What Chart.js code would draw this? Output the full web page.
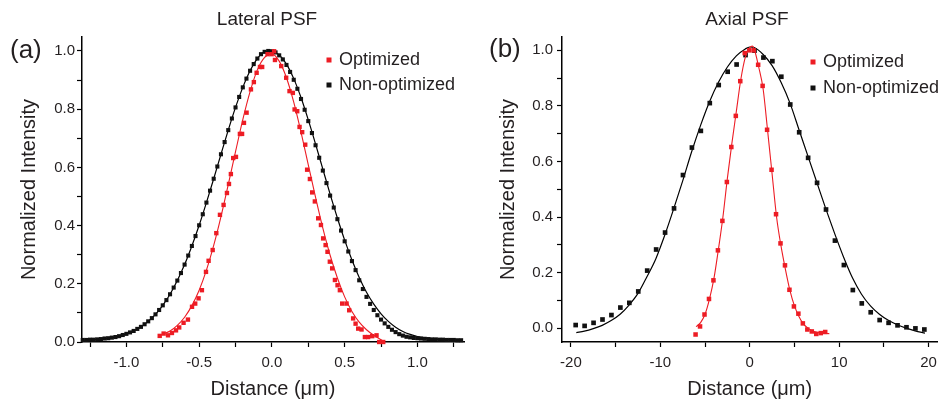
<!DOCTYPE html>
<html>
<head>
<meta charset="utf-8">
<script src="https://cdn.jsdelivr.net/npm/chart.js@4.4.1/dist/chart.umd.min.js"></script>
<style>
  html, body { margin: 0; padding: 0; background: #ffffff; }
  .panel { position: absolute; top: 0; width: 472px; height: 401px; }
</style>
</head>
<body>
<div class="panel" style="left:0px"><canvas id="ca" width="472" height="401"></canvas></div>
<div class="panel" style="left:472px"><canvas id="cb" width="472" height="401"></canvas></div>
<script>
// ---------------- DATA ----------------
// Panel (a) Lateral PSF
const lateralNonOptX = [-1.300,-1.275,-1.250,-1.225,-1.200,-1.175,-1.150,-1.125,-1.100,-1.075,-1.050,-1.025,-1.000,-0.975,-0.950,-0.925,-0.900,-0.875,-0.850,-0.825,-0.800,-0.775,-0.750,-0.725,-0.700,-0.675,-0.650,-0.625,-0.600,-0.575,-0.550,-0.525,-0.500,-0.475,-0.450,-0.425,-0.400,-0.375,-0.350,-0.325,-0.300,-0.275,-0.250,-0.225,-0.200,-0.175,-0.150,-0.125,-0.100,-0.075,-0.050,-0.025,0.000,0.025,0.050,0.075,0.100,0.125,0.150,0.175,0.200,0.225,0.250,0.275,0.300,0.325,0.350,0.375,0.400,0.425,0.450,0.475,0.500,0.525,0.550,0.575,0.600,0.625,0.650,0.675,0.700,0.725,0.750,0.775,0.800,0.825,0.850,0.875,0.900,0.925,0.950,0.975,1.000,1.025,1.050,1.075,1.100,1.125,1.150,1.175,1.200,1.225,1.250,1.275,1.300];
const lateralNonOptY = [0.007,0.007,0.008,0.008,0.009,0.010,0.012,0.013,0.015,0.017,0.020,0.024,0.028,0.033,0.038,0.045,0.052,0.061,0.071,0.082,0.095,0.110,0.126,0.144,0.164,0.187,0.211,0.237,0.266,0.297,0.330,0.364,0.401,0.439,0.479,0.520,0.561,0.603,0.645,0.687,0.728,0.768,0.806,0.842,0.875,0.905,0.932,0.955,0.974,0.989,0.997,1.000,0.999,0.995,0.985,0.971,0.952,0.928,0.901,0.870,0.835,0.798,0.759,0.718,0.676,0.633,0.589,0.546,0.503,0.462,0.422,0.383,0.346,0.311,0.278,0.247,0.212,0.182,0.155,0.131,0.110,0.092,0.077,0.064,0.052,0.042,0.034,0.027,0.022,0.018,0.016,0.014,0.013,0.012,0.011,0.010,0.009,0.009,0.008,0.008,0.007,0.007,0.007,0.006,0.006];
const lateralOptX = [-0.771,-0.744,-0.714,-0.687,-0.659,-0.637,-0.607,-0.577,-0.549,-0.527,-0.504,-0.481,-0.453,-0.435,-0.407,-0.382,-0.357,-0.332,-0.309,-0.295,-0.282,-0.266,-0.247,-0.220,-0.205,-0.192,-0.174,-0.144,-0.124,-0.105,-0.082,-0.067,-0.030,-0.002,0.015,0.021,0.064,0.098,0.121,0.144,0.156,0.174,0.190,0.208,0.229,0.242,0.261,0.277,0.295,0.318,0.337,0.352,0.369,0.382,0.398,0.414,0.433,0.451,0.467,0.483,0.513,0.531,0.558,0.575,0.593,0.616,0.639,0.661,0.689,0.719,0.737,0.765];
const lateralOptY = [0.021,0.029,0.023,0.031,0.040,0.050,0.066,0.077,0.121,0.132,0.150,0.178,0.241,0.279,0.316,0.374,0.437,0.471,0.512,0.543,0.577,0.632,0.636,0.715,0.715,0.753,0.788,0.868,0.893,0.925,0.945,0.945,0.989,0.989,0.999,0.969,0.948,0.908,0.862,0.856,0.799,0.793,0.739,0.721,0.678,0.592,0.560,0.514,0.483,0.425,0.402,0.356,0.333,0.310,0.276,0.253,0.213,0.195,0.178,0.132,0.132,0.109,0.081,0.063,0.046,0.043,0.017,0.017,0.020,0.023,0.000,0.000];
const lateralNonOptFitX = [-1.30,-1.25,-1.20,-1.15,-1.10,-1.05,-1.00,-0.95,-0.90,-0.85,-0.80,-0.75,-0.70,-0.65,-0.60,-0.55,-0.50,-0.45,-0.40,-0.35,-0.30,-0.25,-0.20,-0.15,-0.10,-0.05,0.00,0.05,0.10,0.15,0.20,0.25,0.30,0.35,0.40,0.45,0.50,0.55,0.60,0.65,0.70,0.75,0.80,0.85,0.90,0.95,1.00,1.05,1.10,1.15,1.20,1.25,1.30];
const lateralNonOptFitY = [0.006,0.008,0.009,0.012,0.015,0.020,0.028,0.038,0.052,0.071,0.095,0.126,0.164,0.211,0.266,0.330,0.401,0.479,0.561,0.645,0.728,0.806,0.875,0.932,0.974,0.997,0.999,0.986,0.955,0.905,0.840,0.763,0.680,0.594,0.508,0.426,0.350,0.282,0.222,0.171,0.130,0.097,0.071,0.051,0.036,0.026,0.019,0.014,0.011,0.009,0.008,0.007,0.006];
const lateralOptFitX = [-0.775,-0.75,-0.70,-0.65,-0.60,-0.55,-0.50,-0.45,-0.40,-0.35,-0.30,-0.25,-0.20,-0.15,-0.10,-0.05,0.00,0.05,0.10,0.15,0.20,0.25,0.30,0.35,0.40,0.45,0.50,0.55,0.60,0.65,0.70,0.75,0.77];
const lateralOptFitY = [0.022,0.027,0.038,0.057,0.085,0.125,0.178,0.247,0.332,0.431,0.541,0.654,0.764,0.860,0.935,0.978,0.990,0.965,0.908,0.824,0.721,0.609,0.497,0.391,0.298,0.220,0.155,0.105,0.068,0.042,0.023,0.008,0.003];

// Panel (b) Axial PSF
const axialNonOptX = [-19.47,-18.47,-17.47,-16.47,-15.47,-14.47,-13.47,-12.47,-11.47,-10.47,-9.47,-8.47,-7.47,-6.47,-5.47,-4.47,-3.47,-2.47,-1.47,-0.47,0.53,1.53,2.53,3.53,4.53,5.53,6.53,7.53,8.53,9.53,10.53,11.53,12.53,13.53,14.53,15.53,16.53,17.53,18.53,19.53];
const axialNonOptY = [0.011,0.008,0.019,0.031,0.047,0.074,0.091,0.132,0.207,0.283,0.344,0.431,0.551,0.650,0.710,0.810,0.875,0.923,0.949,0.983,0.999,0.974,0.961,0.905,0.805,0.705,0.613,0.523,0.427,0.315,0.227,0.137,0.089,0.057,0.029,0.019,0.010,0.003,-0.001,-0.005];
const axialOptX = [-6.06,-5.56,-5.06,-4.56,-4.06,-3.56,-3.06,-2.56,-2.06,-1.56,-1.06,-0.56,-0.06,0.44,0.94,1.44,1.94,2.44,2.94,3.44,3.94,4.44,4.94,5.44,5.94,6.44,6.94,7.44,7.94,8.44];
const axialOptY = [-0.023,0.006,0.049,0.105,0.172,0.280,0.386,0.526,0.652,0.764,0.889,0.990,1.000,1.000,0.948,0.872,0.714,0.570,0.410,0.305,0.226,0.138,0.078,0.052,0.017,-0.005,-0.012,-0.021,-0.018,-0.014];
const axialNonOptFitX = [-19.4,-18.5,-17.5,-16.5,-15.5,-14.5,-13.5,-12.5,-11.5,-10.5,-9.5,-8.5,-7.5,-6.5,-5.5,-4.5,-3.5,-2.5,-1.5,-0.5,0,0.5,1.5,2.5,3.5,4.5,5.5,6.5,7.5,8.5,9.5,10.5,11.5,12.5,13.5,14.5,15.5,16.5,17.5,18.5,19.6];
const axialNonOptFitY = [-0.016,-0.011,-0.002,0.010,0.027,0.050,0.083,0.125,0.185,0.250,0.335,0.430,0.530,0.635,0.730,0.815,0.885,0.940,0.980,1.005,1.012,1.010,0.985,0.945,0.885,0.810,0.715,0.620,0.525,0.430,0.340,0.255,0.180,0.122,0.080,0.050,0.028,0.012,0.000,-0.010,-0.018];
const axialOptFitX = [-6.0,-5.5,-5.0,-4.5,-4.0,-3.5,-3.0,-2.5,-2.0,-1.5,-1.0,-0.5,0,0.3,0.5,1.0,1.5,2.0,2.5,3.0,3.5,4.0,4.5,5.0,5.5,6.0,6.5,7.0,7.5,8.0,8.9];
const axialOptFitY = [0.005,0.020,0.050,0.105,0.180,0.285,0.400,0.540,0.665,0.780,0.895,0.975,1.010,1.015,1.005,0.940,0.860,0.710,0.555,0.400,0.295,0.210,0.135,0.080,0.042,0.015,0.000,-0.010,-0.015,-0.018,-0.020];

// Tick values
const lateralXTicks = [-1.25,-1.0,-0.75,-0.5,-0.25,0,0.25,0.5,0.75,1.0,1.25];
const lateralXLabels = [-1.0,-0.5,0,0.5,1.0];
const axialXTicks = [-20,-15,-10,-5,0,5,10,15,20];
const axialXLabels = [-20,-10,0,10,20];
const yTicks = [0,0.1,0.2,0.3,0.4,0.5,0.6,0.7,0.8,0.9,1.0];
const yLabels = [0,0.2,0.4,0.6,0.8,1.0];

const seriesNames = ['Optimized','Non-optimized'];
const titles = ['Lateral PSF','Axial PSF'];
const panelTags = ['(a)','(b)'];
const xTitle = 'Distance (\u03bcm)';
const yTitle = 'Normalized Intensity';

// ---------------- STYLE ----------------
const FONT = '"Liberation Sans", Arial, Helvetica, sans-serif';
const TEXT = '#231f20';
const RED = '#ed1c24';
const BLACK = '#111111';

function pts(xs, ys) { return xs.map((x, i) => ({ x: x, y: ys[i] })); }
function isIn(v, arr) { return arr.some(a => Math.abs(a - v) < 1e-6); }

const annot = {
  id: 'annot',
  afterDraw(chart, args, o) {
    const ctx = chart.ctx;
    ctx.save();
    ctx.fillStyle = TEXT;
    ctx.textBaseline = 'middle';
    ctx.textAlign = 'center';
    ctx.font = '19px ' + FONT;
    ctx.fillText(o.title, o.titleX, o.titleY);
    ctx.textAlign = 'left';
    ctx.font = '26px ' + FONT;
    ctx.fillText(o.tag, o.tagX, o.tagY);
    ctx.font = '18px ' + FONT;
    o.items.forEach((idx, k) => {
      const ds = chart.data.datasets[idx];
      const y = o.legY + k * o.legDy;
      ctx.fillStyle = ds.pointBackgroundColor;
      ctx.fillRect(o.legMX - 2.5, y - 2.5, 5, 5);
      ctx.fillStyle = TEXT;
      ctx.fillText(ds.label, o.legTX, y);
    });
    ctx.restore();
  }
};

function buildPanel(canvasId, o) {
  return new Chart(document.getElementById(canvasId), {
    type: 'scatter',
    data: {
      datasets: [
        { label: seriesNames[0], data: pts(o.optX, o.optY), pointStyle: 'rect', pointRadius: o.rOpt, pointHoverRadius: o.rOpt,
          pointBackgroundColor: RED, pointBorderWidth: 0, borderColor: RED, showLine: false, clip: false },
        { label: seriesNames[0] + ' fit', data: pts(o.optFitX, o.optFitY), showLine: true, pointRadius: 0, borderColor: RED,
          borderWidth: 1.1, cubicInterpolationMode: 'monotone', fill: false },
        { label: seriesNames[1], data: pts(o.nonX, o.nonY), pointStyle: 'rect', pointRadius: o.rNon, pointHoverRadius: o.rNon,
          pointBackgroundColor: BLACK, pointBorderWidth: 0, borderColor: BLACK, showLine: false, clip: false },
        { label: seriesNames[1] + ' fit', data: pts(o.nonFitX, o.nonFitY), showLine: true, pointRadius: 0, borderColor: '#000',
          borderWidth: 1.2, cubicInterpolationMode: 'monotone', fill: false }
      ]
    },
    options: {
      responsive: false,
      animation: false,
      devicePixelRatio: 1,
      events: [],
      layout: { padding: { top: 37, right: o.padRight, left: 0, bottom: 0 } },
      plugins: {
        legend: { display: false },
        tooltip: { enabled: false },
        title: { display: false },
        annot: o.annot
      },
      scales: {
        x: {
          type: 'linear', min: o.xMin, max: o.xMax,
          afterFit(s) { s.height = 59; },
          afterBuildTicks(s) { s.ticks = o.xTicks.map(v => ({ value: v })); },
          ticks: {
            autoSkip: false, maxRotation: 0, padding: 7, color: TEXT,
            font: { family: FONT, size: 15 },
            callback: (v) => isIn(v, o.xLabels) ? o.xFmt(v) : ''
          },
          grid: { drawOnChartArea: false, drawTicks: true, tickLength: 5, tickColor: '#000', tickWidth: 1.2 },
          border: { display: true, color: '#000', width: 1.5 },
          title: { display: true, text: xTitle, color: TEXT, font: { family: FONT, size: 20 }, padding: { top: 0, bottom: 0 } }
        },
        y: {
          type: 'linear', min: o.yMin, max: o.yMax,
          afterFit(s) { s.width = o.yWidth; },
          afterBuildTicks(s) { s.ticks = yTicks.map(v => ({ value: v })); },
          ticks: {
            autoSkip: false, padding: o.yTickPad, color: TEXT,
            font: { family: FONT, size: 15 },
            callback: (v) => isIn(v, yLabels) ? Number(v).toFixed(1) : ''
          },
          grid: { drawOnChartArea: false, drawTicks: true, tickLength: 5, tickColor: '#000', tickWidth: 1.2 },
          border: { display: true, color: '#000', width: 1.5 },
          title: { display: true, text: yTitle, color: TEXT, font: { family: FONT, size: 20 }, padding: { top: o.yTitlePad, bottom: 0 } }
        }
      }
    },
    plugins: [annot]
  });
}

buildPanel('ca', {
  optX: lateralOptX, optY: lateralOptY, optFitX: lateralOptFitX, optFitY: lateralOptFitY,
  nonX: lateralNonOptX, nonY: lateralNonOptY, nonFitX: lateralNonOptFitX, nonFitY: lateralNonOptFitY,
  rOpt: 3.1, rNon: 2.9,
  xMin: -1.305, xMax: 1.32, yMin: 0, yMax: 1.048,
  xTicks: lateralXTicks, xLabels: lateralXLabels, xFmt: v => Number(v).toFixed(1),
  padRight: 8, yWidth: 82, yTickPad: 2, yTitlePad: 17,
  annot: { title: titles[0], titleX: 267, titleY: 20, tag: panelTags[0], tagX: 10, tagY: 51,
           items: [0, 2], legMX: 329, legTX: 339, legY: 60, legDy: 25 }
});

buildPanel('cb', {
  optX: axialOptX, optY: axialOptY, optFitX: axialOptFitX, optFitY: axialOptFitY,
  nonX: axialNonOptX, nonY: axialNonOptY, nonFitX: axialNonOptFitX, nonFitY: axialNonOptFitY,
  rOpt: 3.2, rNon: 3.3,
  xMin: -21, xMax: 21, yMin: -0.05, yMax: 1.048,
  xTicks: axialXTicks, xLabels: axialXLabels, xFmt: v => String(v),
  padRight: 4, yWidth: 90, yTickPad: 4, yTitlePad: 24,
  annot: { title: titles[1], titleX: 275, titleY: 20, tag: panelTags[1], tagX: 17, tagY: 50,
           items: [0, 2], legMX: 341, legTX: 351, legY: 62, legDy: 26 }
});
</script>
</body>
</html>
